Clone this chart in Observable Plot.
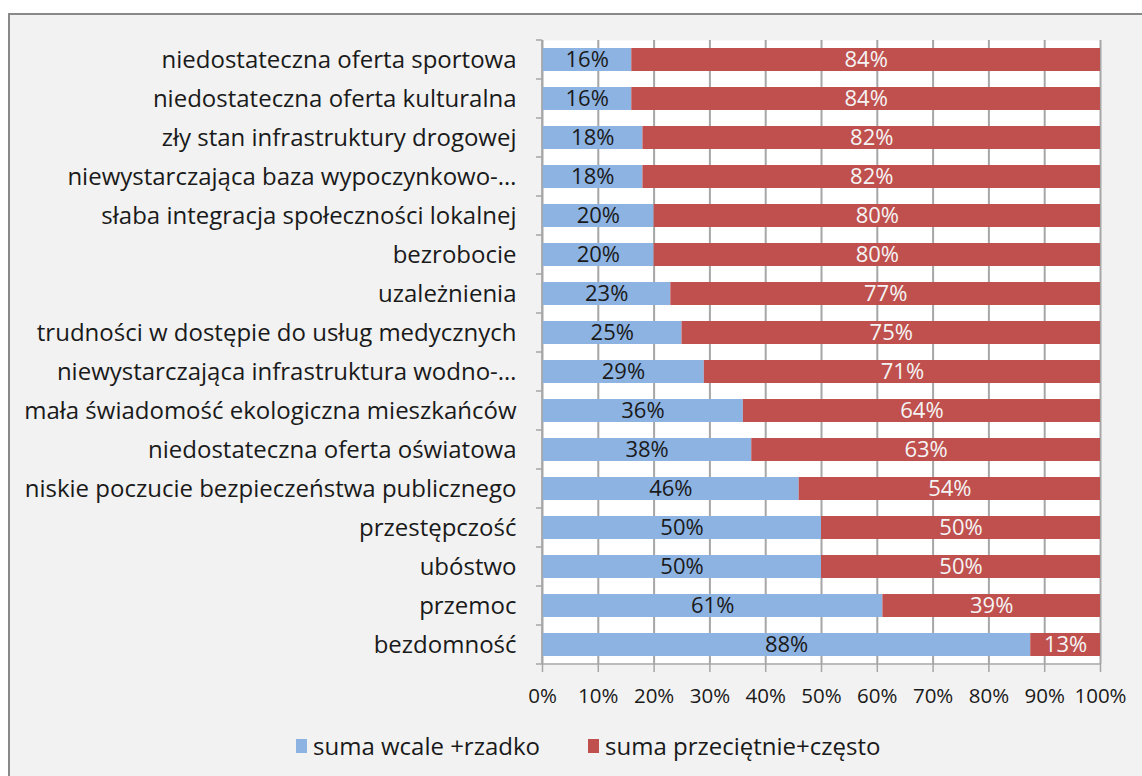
<!DOCTYPE html>
<html>
<head>
<meta charset="utf-8">
<script src="https://cdn.jsdelivr.net/npm/d3@7"></script>
<script src="https://cdn.jsdelivr.net/npm/@observablehq/plot@0.6"></script>
<style>
  html, body { margin: 0; padding: 0; background: #ffffff; overflow: hidden; width: 1142px; height: 776px; }
  #frame { position: absolute; left: 8px; top: 13px; width: 1150px; height: 780px;
           border: 2px solid #898989; background: #f2f2f2; font-family: "Open Sans", sans-serif; }
  #chart { position: absolute; left: 0; top: 0; }
  #legend { position: absolute; left: 286px; top: 714px; display: flex;
            gap: 48px; font-size: 24px; line-height: 33px; color: #1a1a1a; white-space: nowrap; }
  .item { display: flex; align-items: center; gap: 6px; }
  .sw { width: 11px; height: 14px; display: inline-block; }
</style>
</head>
<body>
<div id="frame">
  <div id="chart"></div>
  <div id="legend"></div>
</div>
<script>
const categories = [
  "niedostateczna oferta sportowa",
  "niedostateczna oferta kulturalna",
  "zły stan infrastruktury drogowej",
  "niewystarczająca baza wypoczynkowo-…",
  "słaba integracja społeczności lokalnej",
  "bezrobocie",
  "uzależnienia",
  "trudności w dostępie do usług medycznych",
  "niewystarczająca infrastruktura wodno-…",
  "mała świadomość ekologiczna mieszkańców",
  "niedostateczna oferta oświatowa",
  "niskie poczucie bezpieczeństwa publicznego",
  "przestępczość",
  "ubóstwo",
  "przemoc",
  "bezdomność"
];
const seriesNames = ["suma wcale +rzadko", "suma przeciętnie+często"];
const rarely = [16, 16, 18, 18, 20, 20, 23, 25, 29, 36, 37.5, 46, 50, 50, 61, 87.5];
const often  = [84, 84, 82, 82, 80, 80, 77, 75, 71, 64, 62.5, 54, 50, 50, 39, 12.5];
const xTicks = [0, 10, 20, 30, 40, 50, 60, 70, 80, 90, 100];
const colors = ["#8db3e2", "#c0504d"];
const labelColors = ["#1a1a1a", "#f4f4f4"];

const rows = [];
categories.forEach((c, i) => {
  rows.push({cat: c, series: seriesNames[0], x1: 0, x2: rarely[i], v: rarely[i]});
  rows.push({cat: c, series: seriesNames[1], x1: rarely[i], x2: rarely[i] + often[i], v: often[i]});
});

function bandTicks(index, scales, values, dims) {
  const y = scales.y;
  const g = d3.create("svg:g").attr("stroke", "#a6a6a6").attr("stroke-width", 1.5).attr("fill", "none");
  const x0 = dims.marginLeft;
  const yb = dims.height - dims.marginBottom;
  const yt = dims.marginTop;
  const step = (yb - yt) / categories.length;
  const pad = (step - y.bandwidth()) / 2;
  const bounds = categories.map(c => y(c) - pad).concat([yb]);
  for (const b of bounds) g.append("line").attr("x1", x0 - 6).attr("x2", x0).attr("y1", b).attr("y2", b);
  g.append("line").attr("x1", x0).attr("x2", x0).attr("y1", yt).attr("y2", yb);
  g.append("line").attr("x1", x0).attr("x2", dims.width - dims.marginRight).attr("y1", yb).attr("y2", yb);
  return g.node();
}

const plot = Plot.plot({
  width: 1132,
  height: 700,
  marginLeft: 532,
  marginRight: 42,
  marginTop: 25,
  marginBottom: 51,
  style: {background: "transparent", fontFamily: "Open Sans, sans-serif", color: "#1a1a1a"},
  x: {domain: [0, 100], label: null},
  y: {domain: categories, paddingInner: 0.41, paddingOuter: 0.205, label: null},
  color: {domain: seriesNames, range: colors},
  marks: [
    Plot.frame({fill: "#ffffff", stroke: "none"}),
    Plot.ruleX(xTicks, {stroke: "#a6a6a6", strokeWidth: 2, strokeOpacity: 1}),
    Plot.barX(rows, {y: "cat", x1: "x1", x2: "x2", fill: "series"}),
    Plot.text(rows, {y: "cat", x: d => (d.x1 + d.x2) / 2, text: d => Math.round(d.v) + "%",
      fill: d => labelColors[seriesNames.indexOf(d.series)], fontSize: 22}),
    bandTicks,
    Plot.axisX({tickSize: 8, tickPadding: 16, fontSize: 20.5, stroke: "#a6a6a6", strokeWidth: 1.5, tickFormat: d => d + "%", ticks: xTicks}),
    Plot.axisY({tickSize: 0, tickPadding: 26, fontSize: 24})
  ]
});
document.getElementById("chart").appendChild(plot);

const legend = document.getElementById("legend");
seriesNames.forEach((s, i) => {
  const it = document.createElement("div");
  it.className = "item";
  const sw = document.createElement("span");
  sw.className = "sw";
  sw.style.background = colors[i];
  const t = document.createElement("span");
  t.textContent = s;
  it.appendChild(sw); it.appendChild(t);
  legend.appendChild(it);
});
</script>
</body>
</html>
